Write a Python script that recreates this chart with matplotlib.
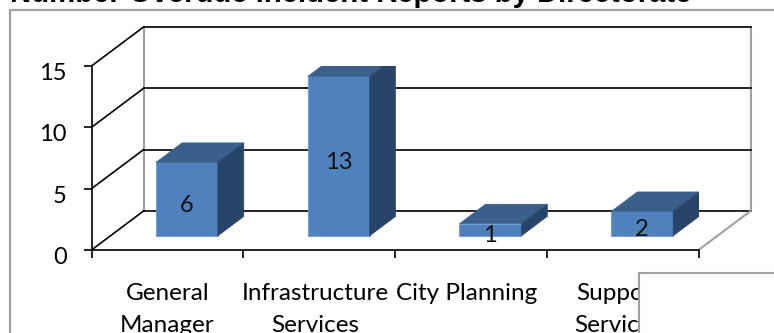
import matplotlib
matplotlib.use("Agg")
import matplotlib.pyplot as plt
from matplotlib.patches import Polygon, Rectangle
from matplotlib.transforms import ScaledTranslation

categories = ["General\nManager", "Infrastructure\nServices", "City Planning", "Support\nServices"]
values = [6, 13, 1, 2]
y_ticks = [0, 5, 10, 15]
title = "Number Overdue Incident Reports by Directorate"

W, H = 774, 333
GREY = "#a0a0a0"
FS = 17

# depth of the 3d box, in data units
WALL_DX = 0.343
WALL_DY = 3.18
BAR_W = 0.408
BAR_START = 0.36
BAR_END = 0.86

# long labels get pushed left a little so they don't collide
label_nudge = [0, -3, -3, -3]


def depth(x, y, t):
    return x + WALL_DX * t, y + WALL_DY * t


def bar3d(ax, center, value):
    x0 = center - BAR_W / 2
    x1 = center + BAR_W / 2
    fx0, fy0 = depth(x0, 0, BAR_START)
    fx1, _ = depth(x1, 0, BAR_START)
    top = fy0 + value
    shift_x = WALL_DX * (BAR_END - BAR_START)
    shift_y = WALL_DY * (BAR_END - BAR_START)
    ax.add_patch(Polygon([(fx0, fy0), (fx1, fy0), (fx1, top), (fx0, top)], fc="#4f81bd", ec="#6d97c9", lw=0.6, zorder=4))
    ax.add_patch(Polygon([(fx0, top), (fx1, top), (fx1 + shift_x, top + shift_y), (fx0 + shift_x, top + shift_y)],
                         fc="#3a5f8b", ec="#3a5f8b", lw=0.4, zorder=4))
    ax.add_patch(Polygon([(fx1, fy0), (fx1 + shift_x, fy0 + shift_y), (fx1 + shift_x, top + shift_y), (fx1, top)],
                         fc="#284468", ec="#284468", lw=0.4, zorder=4))
    ax.text((fx0 + fx1) / 2, fy0 + value / 2 - 0.5, str(value), ha="center", va="center", fontsize=FS, color="#111111", zorder=6)


plt.rcParams["font.family"] = ["Lato", "DejaVu Sans"]

fig = plt.figure(figsize=(W / 100, H / 100), dpi=100, facecolor="white")

# outer chart frame, partly off the canvas
frame = fig.add_axes([0, 0, 1, 1], zorder=0)
frame.set_xlim(0, W)
frame.set_ylim(H, 0)
frame.axis("off")
frame.add_patch(Rectangle((10, 10), W + 20, H + 20, fc="white", ec=GREY, lw=1.6, clip_on=True))
frame.text(10, 2.5, title, family="Liberation Sans", weight="bold", fontsize=21.1, color="black", ha="left", va="baseline")

ax = fig.add_axes([91.5 / W, (H - 250) / H, 607 / W, 184 / H], zorder=1)
ax.patch.set_alpha(0)
ax.set_xlim(0, 4)
ax.set_ylim(0, 15)
for s in ["top", "right"]:
    ax.spines[s].set_visible(False)
for s in ["left", "bottom"]:
    ax.spines[s].set_linewidth(1.2)
ax.set_yticks(y_ticks)
ax.set_xticks(range(5))
ax.set_xticklabels([])
ax.tick_params(axis="both", length=5.8, width=1.2, labelsize=FS, colors="black")
ax.tick_params(axis="y", pad=12)
for lab in ax.get_yticklabels():
    lab.set_transform(lab.get_transform() + ScaledTranslation(0, -5.5 / 100, fig.dpi_scale_trans))

for i, name in enumerate(categories):
    ax.annotate(name, (i + 0.5, 0), xytext=(label_nudge[i], -24), textcoords="offset points", ha="center", va="top",
                fontsize=FS + 0.5, linespacing=1.6, annotation_clip=False)

# side wall and back wall gridlines
for v in y_ticks:
    bx, by = depth(0, v, 1)
    ax.plot([0, bx], [v, by], color="black", lw=1.2, clip_on=False, zorder=2)
    ax.plot([bx, 4 + WALL_DX], [by, by], color="black", lw=1.2, clip_on=False, zorder=2)

bx0, by0 = depth(0, 0, 1)
bx1, _ = depth(4, 0, 1)
top_y = depth(0, 15, 1)[1]
ax.plot([bx0, bx0], [by0, top_y], color=GREY, lw=1.5, clip_on=False, zorder=1)
ax.plot([bx1, bx1], [by0, top_y], color=GREY, lw=1.5, clip_on=False, zorder=1)
ax.plot([4, bx1], [0, by0], color=GREY, lw=1.5, clip_on=False, zorder=2)

for i, v in enumerate(values):
    bar3d(ax, i + 0.505, v)

# box overlapping the lower right corner
cover = fig.add_axes([0, 0, 1, 1], zorder=3)
cover.set_xlim(0, W)
cover.set_ylim(H, 0)
cover.axis("off")
cover.add_patch(Rectangle((638.5, 272.5), W, H, fc="white", ec=GREY, lw=1.5))

fig.savefig("out.png", dpi=100)
